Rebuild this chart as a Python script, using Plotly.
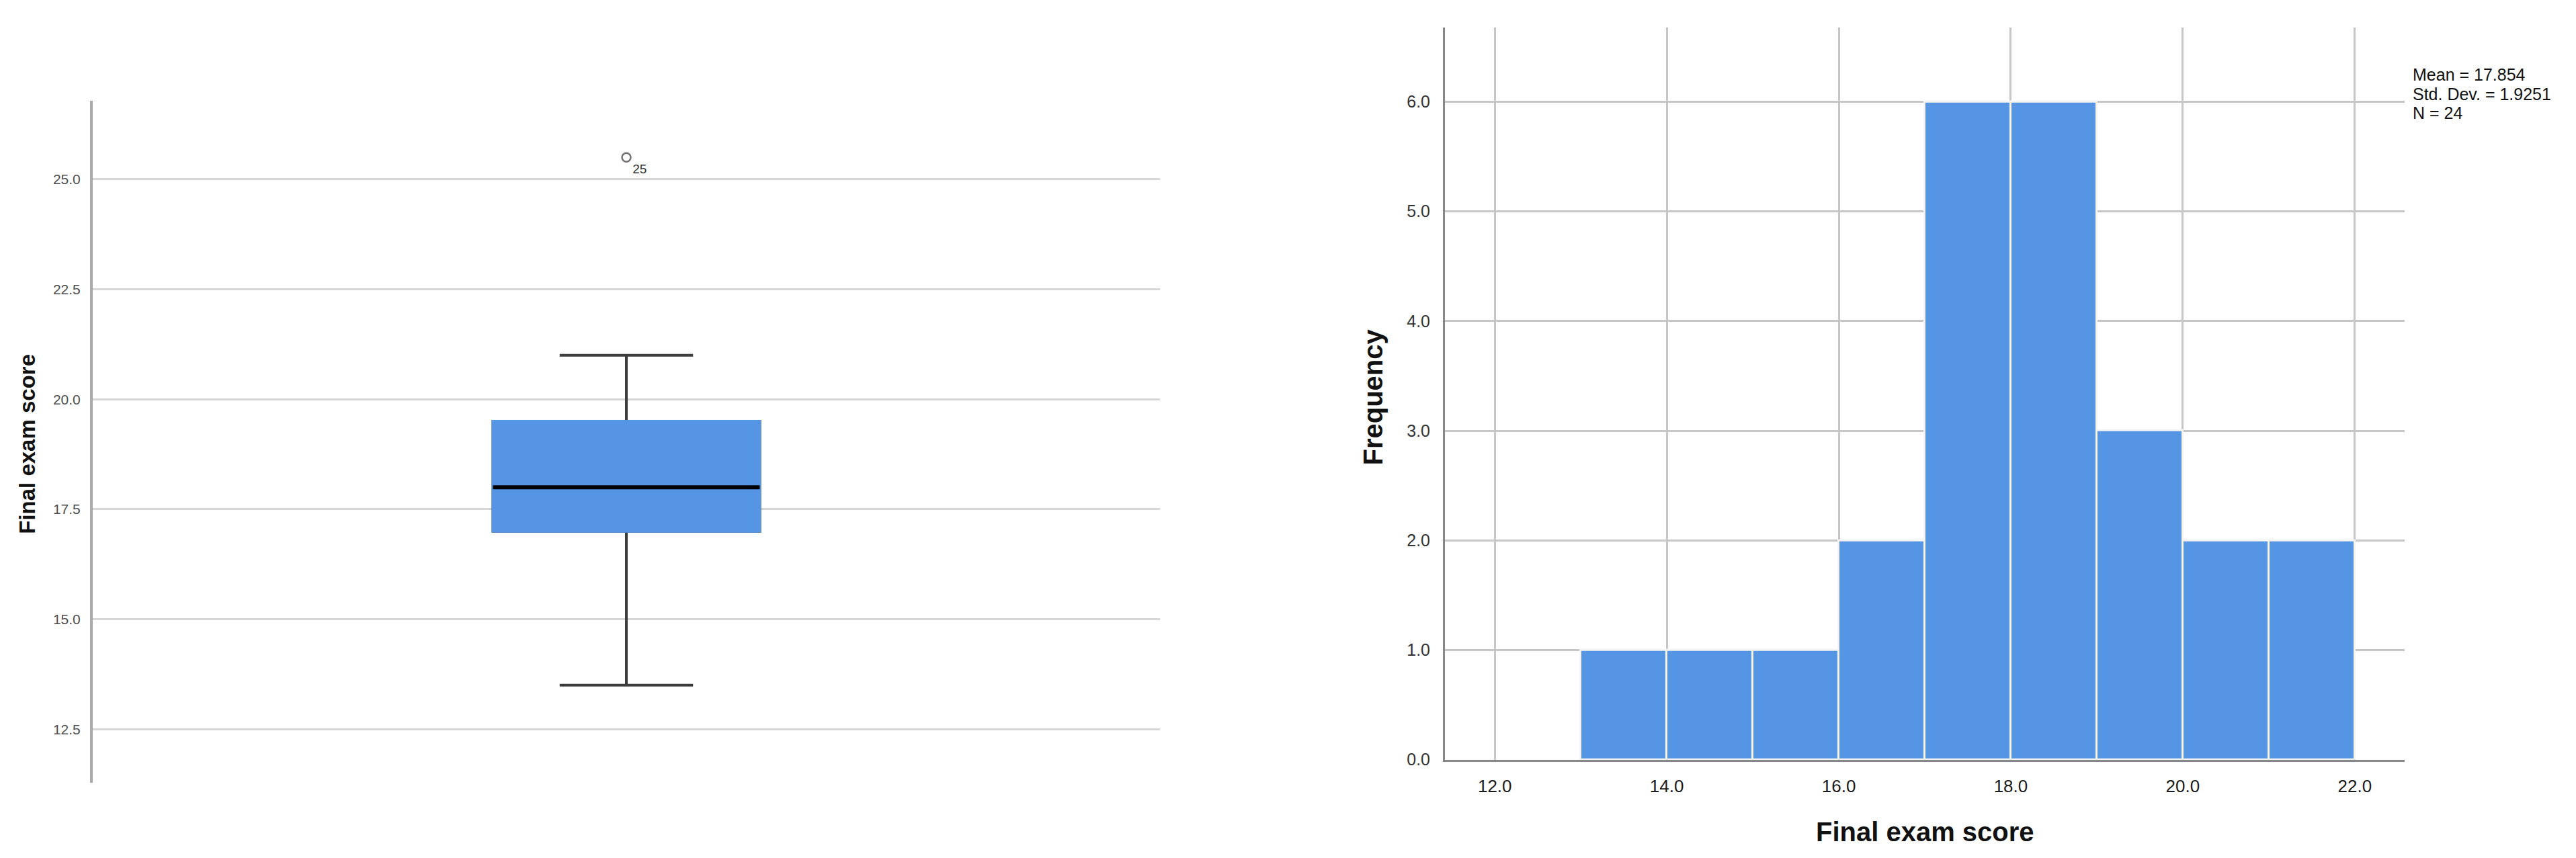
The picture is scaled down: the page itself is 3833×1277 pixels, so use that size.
import plotly.graph_objects as go

# --- DATA ---
# Boxplot summary (Final exam score)
BOX_Q1 = 17.0
BOX_MEDIAN = 18.0
BOX_Q3 = 19.5
BOX_LOW = 13.5
BOX_HIGH = 21.0
OUTLIER_VALUES = [25.5]
OUTLIER_LABELS = ["25"]

# Histogram (Final exam score)
BIN_EDGES = [13, 14, 15, 16, 17, 18, 19, 20, 21, 22]
BIN_COUNTS = [1, 1, 1, 2, 6, 6, 3, 2, 2]
STATS_LINES = ["Mean = 17.854", "Std. Dev. = 1.9251", "N = 24"]

AXIS_TITLE = "Final exam score"
FREQ_TITLE = "Frequency"

# --- STYLE ---
W, H = 3833, 1277
BLUE = "#5595E4"
FONT = "Liberation Sans, Arial, sans-serif"


def px_x(p):
    return p / W


def px_y(p):
    return 1 - p / H


fig = go.Figure()

# 1. Boxplot: whiskers (dark), then box body, then median
fig.add_trace(go.Box(
    x=[0], q1=[BOX_Q1], median=[BOX_MEDIAN], q3=[BOX_Q3],
    lowerfence=[BOX_LOW], upperfence=[BOX_HIGH],
    width=1, whiskerwidth=0.5, boxpoints=False,
    fillcolor=BLUE, line=dict(color="#3d3d3d", width=4),
    xaxis="x", yaxis="y", showlegend=False, hoverinfo="skip"
))
fig.add_trace(go.Box(
    x=[0], q1=[BOX_Q1], median=[BOX_MEDIAN], q3=[BOX_Q3],
    lowerfence=[BOX_Q1], upperfence=[BOX_Q3],
    width=1, whiskerwidth=0, boxpoints=False,
    fillcolor=BLUE, line=dict(color=BLUE, width=4),
    xaxis="x", yaxis="y", showlegend=False, hoverinfo="skip"
))
fig.add_trace(go.Box(
    x=[0], q1=[BOX_MEDIAN], median=[BOX_MEDIAN], q3=[BOX_MEDIAN],
    lowerfence=[BOX_MEDIAN], upperfence=[BOX_MEDIAN],
    width=1, whiskerwidth=0, boxpoints=False,
    fillcolor="rgba(0,0,0,0)", line=dict(color="#000000", width=6),
    xaxis="x", yaxis="y", showlegend=False, hoverinfo="skip"
))
fig.add_trace(go.Scatter(
    x=[0] * len(OUTLIER_VALUES), y=OUTLIER_VALUES,
    mode="markers+text", text=OUTLIER_LABELS, textposition="bottom right",
    textfont=dict(family=FONT, size=19, color="#333333"),
    marker=dict(symbol="circle-open", size=13, color="#707070", line=dict(width=2.5)),
    xaxis="x", yaxis="y", showlegend=False, hoverinfo="skip"
))

# 2. Histogram bars
centers = [(a + b) / 2 for a, b in zip(BIN_EDGES[:-1], BIN_EDGES[1:])]
fig.add_trace(go.Bar(
    x=centers, y=BIN_COUNTS, width=1,
    marker=dict(color=BLUE, line=dict(color="#f4f4f4", width=3)),
    xaxis="x2", yaxis="y2", showlegend=False, hoverinfo="skip"
))

fig.update_layout(
    width=W, height=H,
    margin=dict(l=0, r=0, t=0, b=0),
    paper_bgcolor="white", plot_bgcolor="white",
    font=dict(family=FONT, color="#333333"),
    bargap=0,
    xaxis=dict(
        domain=[px_x(130), px_x(1718)], range=[-2, 2],
        showline=False, showgrid=False, zeroline=False,
        showticklabels=False, ticks=""
    ),
    yaxis=dict(
        domain=[px_y(1170), px_y(144)], range=[11.28, 26.78],
        tick0=12.5, dtick=2.5, tickformat=".1f",
        showline=True, linecolor="#ababab", linewidth=4,
        showgrid=True, gridcolor="#d6d6d6", gridwidth=3,
        zeroline=False, ticks="", ticklabelstandoff=10,
        tickfont=dict(size=21, color="#4d4d4d")
    ),
    xaxis2=dict(
        domain=[px_x(2142), px_x(3570)], range=[11.42, 22.58],
        tick0=12, dtick=2, tickformat=".1f",
        showline=True, linecolor="#878787", linewidth=3,
        showgrid=True, gridcolor="#c6c6c6", gridwidth=2.5,
        zeroline=False, ticks="", ticklabelstandoff=14,
        tickfont=dict(size=26, color="#1a1a1a"), anchor="y2"
    ),
    yaxis2=dict(
        domain=[px_y(1135), px_y(33)], range=[0, 6.68],
        tick0=0, dtick=1, tickformat=".1f",
        showline=True, linecolor="#878787", linewidth=3,
        showgrid=True, gridcolor="#c6c6c6", gridwidth=2.5,
        zeroline=False, ticks="", ticklabelstandoff=14,
        tickfont=dict(size=25, color="#333333"), anchor="x2"
    ),
)

# Axis titles and summary text
annotations = [
    dict(text=f"<b>{AXIS_TITLE}</b>", x=px_x(33), y=px_y(660), textangle=-90,
         font=dict(size=33, color="#111111")),
    dict(text=f"<b>{FREQ_TITLE}</b>", x=px_x(2035), y=px_y(589), textangle=-90,
         font=dict(size=40, color="#111111")),
    dict(text=f"<b>{AXIS_TITLE}</b>", x=px_x(2856), y=px_y(1244),
         font=dict(size=40, color="#111111")),
]
for i, line in enumerate(STATS_LINES):
    annotations.append(dict(text=line, x=px_x(3580), y=px_y(104 + 29 * i),
                            xanchor="left", font=dict(size=25, color="#111111")))
for a in annotations:
    a.setdefault("xanchor", "center")
    a.update(xref="paper", yref="paper", yanchor="middle", showarrow=False)
fig.update_layout(annotations=annotations)

fig.write_html("out.html")
